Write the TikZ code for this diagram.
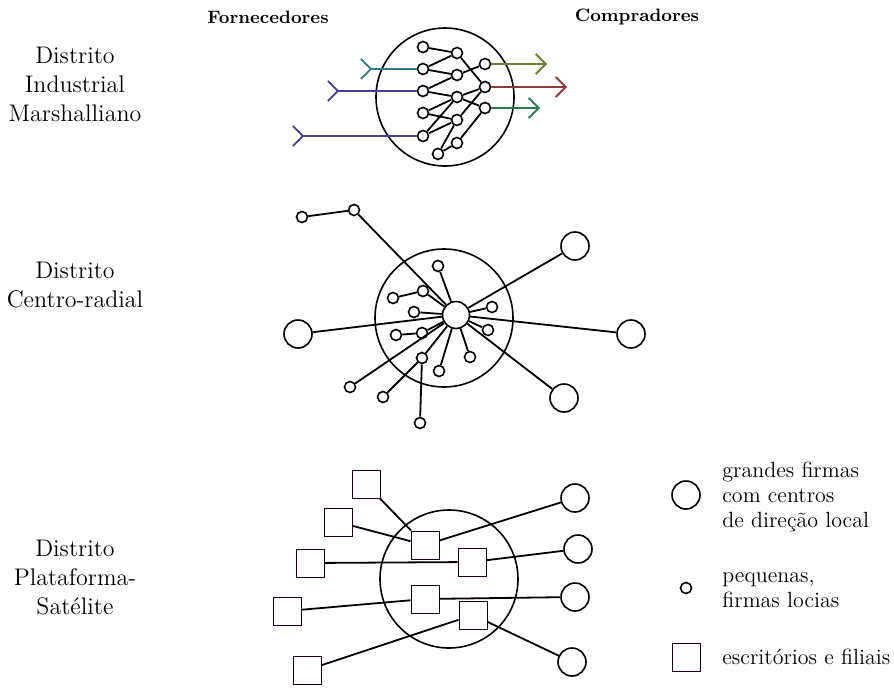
\documentclass[tikz,border=0pt]{standalone}
\usepackage{xcolor}
\usepackage{tikz}
\usetikzlibrary{arrows.meta}
\definecolor{petrol}{HTML}{2F7A80}
\definecolor{indigo}{HTML}{4A3C96}
\definecolor{moss}{HTML}{6E7A36}
\definecolor{rust}{HTML}{8E3A3A}
\definecolor{leaf}{HTML}{2E7A4E}

\begin{document}
\begin{tikzpicture}[x=0.5pt, y=-0.5pt,
  area/.style={draw, circle, line width=0.8pt, minimum size=69pt, inner sep=0pt},
  major/.style={draw, circle, line width=0.8pt, minimum size=14pt, inner sep=0pt, fill=white},
  minor/.style={draw, circle, line width=0.8pt, minimum size=5.5pt, inner sep=0pt, fill=white},
  office/.style={draw=black!80!violet, line width=0.5pt, minimum size=14pt, inner sep=0pt, fill=white},
  link/.style={line width=0.9pt},
  feed/.style={line width=0.9pt, {Straight Barb[reversed, length=5pt, width=10pt]}-},
  sale/.style={line width=0.9pt, -{Straight Barb[length=5pt, width=10pt]}},
  rowlab/.style={align=center, font=\fontsize{12}{14.5}\selectfont},
  head/.style={font=\fontsize{9}{11}\selectfont\bfseries},
  lgd/.style={align=left, anchor=west, inner sep=0pt, font=\fontsize{11}{12.5}\selectfont}]
  % pixel grid of the scan: x to the right, y downwards
  \useasboundingbox (0,0) rectangle (894,696);

  \node[head] (forn) at (268,17) {Fornecedores};
  \node[head] (comp) at (637,17) {Compradores};
  \node[rowlab] (r1) at (75,84)  {Distrito\\Industrial\\Marshalliano};
  \node[rowlab] (r2) at (75,285) {Distrito\\Centro-radial};
  \node[rowlab] (r3) at (75,578) {Distrito\\Plataforma-\\Satélite};

  % marshalliano
  \node[area]  (ind) at (445,97)  {};
  \node[minor] (a1)  at (423,47)  {};
  \node[minor] (a2)  at (423,69)  {};
  \node[minor] (a3)  at (423,91)  {};
  \node[minor] (a4)  at (423,113) {};
  \node[minor] (a5)  at (423,136) {};
  \node[minor] (b1)  at (457,53)  {};
  \node[minor] (b2)  at (457,75)  {};
  \node[minor] (b3)  at (457,97)  {};
  \node[minor] (b4)  at (457,120) {};
  \node[minor] (b5)  at (457,143) {};
  \node[minor] (c1)  at (485,64)  {};
  \node[minor] (c2)  at (485,87)  {};
  \node[minor] (c3)  at (485,108) {};
  \node[minor] (d1)  at (438,154) {};
  \coordinate (in1)  at (360,69);
  \coordinate (in2)  at (327,91);
  \coordinate (in3)  at (292,136);
  \coordinate (out1) at (547,64);
  \coordinate (out2) at (567,87);
  \coordinate (out3) at (540,108);
  \draw[link] (a1) -- (b1);
  \draw[link] (a2) -- (b1);
  \draw[link] (a2) -- (b2);
  \draw[link] (a3) -- (b2);
  \draw[link] (a3) -- (b3);
  \draw[link] (a4) -- (b3);
  \draw[link] (a4) -- (b4);
  \draw[link] (a5) -- (b3);
  \draw[link] (a5) -- (b4);
  \draw[link] (b1) -- (c2);
  \draw[link] (b2) -- (c1);
  \draw[link] (b3) -- (c2);
  \draw[link] (b3) -- (c3);
  \draw[link] (b4) -- (c2);
  \draw[link] (b5) -- (c3);
  \draw[link] (d1) -- (b5);
  \draw[link] (d1) -- (b4);
  \draw[feed, petrol] (in1) -- (a2);
  \draw[feed, indigo] (in2) -- (a3);
  \draw[feed, indigo] (in3) -- (a5);
  \draw[sale, moss] (c1) -- (out1);
  \draw[sale, rust] (c2) -- (out2);
  \draw[sale, leaf] (c3) -- (out3);

  % centro-radial
  \node[area]  (rad) at (444,318) {};
  \node[draw, circle, line width=0.8pt, minimum size=13.5pt, inner sep=0pt, fill=white] (hub) at (456,315) {};
  \node[major] (f1)  at (575,246) {};
  \node[major] (f2)  at (298,334) {};
  \node[major] (f3)  at (631,334) {};
  \node[major] (f4)  at (564,398) {};
  \node[minor] (p1)  at (302,217) {};
  \node[minor] (p2)  at (354,210) {};
  \node[minor] (p3)  at (438,266) {};
  \node[minor] (p4)  at (393,298) {};
  \node[minor] (p5)  at (423,291) {};
  \node[minor] (p6)  at (414,312) {};
  \node[minor] (p7)  at (492,307) {};
  \node[minor] (p8)  at (396,335) {};
  \node[minor] (p9)  at (422,333) {};
  \node[minor] (p10) at (488,330) {};
  \node[minor] (p11) at (422,358) {};
  \node[minor] (p12) at (439,371) {};
  \node[minor] (p13) at (470,357) {};
  \node[minor] (p14) at (350,387) {};
  \node[minor] (p15) at (383,397) {};
  \node[minor] (p16) at (420,423) {};
  \draw[link] (p1) -- (p2);
  \draw[link] (p2) -- (hub);
  \draw[link] (hub) -- (f1);
  \draw[link] (hub) -- (f2);
  \draw[link] (hub) -- (f3);
  \draw[link] (hub) -- (f4);
  \draw[link] (hub) -- (p3);
  \draw[link] (p4) -- (p5);
  \draw[link] (p5) -- (hub);
  \draw[link] (p6) -- (hub);
  \draw[link] (p8) -- (p9);
  \draw[link] (p9) -- (hub);
  \draw[link] (hub) -- (p7);
  \draw[link] (hub) -- (p10);
  \draw[link] (hub) -- (p14);
  \draw[link] (hub) -- (p11);
  \draw[link] (p11) -- (p15);
  \draw[link] (p11) -- (p16);
  \draw[link] (hub) -- (p12);
  \draw[link] (hub) -- (p13);

  % plataforma-satelite
  \node[area]   (sat) at (449,579) {};
  \node[office] (s1)  at (366,484) {};
  \node[office] (s2)  at (338,522) {};
  \node[office] (s3)  at (310,563) {};
  \node[office] (s4)  at (287,611) {};
  \node[office] (s5)  at (307,670) {};
  \node[office] (i1)  at (425,545) {};
  \node[office] (i2)  at (472,562) {};
  \node[office] (i3)  at (425,599) {};
  \node[office] (i4)  at (473,615) {};
  \node[major]  (g1)  at (575,498) {};
  \node[major]  (g2)  at (578,549) {};
  \node[major]  (g3)  at (575,597) {};
  \node[major]  (g4)  at (572,662) {};
  \draw[link] (s1) -- (i1);
  \draw[link] (s2) -- (i1);
  \draw[link] (s3) -- (i2);
  \draw[link] (s4) -- (i3);
  \draw[link] (s5) -- (i4);
  \draw[link] (i1) -- (g1);
  \draw[link] (i2) -- (g2);
  \draw[link] (i3) -- (g3);
  \draw[link] (i4) -- (g4);

  % legenda
  \node[major]  (kf) at (686,495) {};
  \node[minor]  (kp) at (686,588) {};
  \node[office] (ko) at (686,657) {};
  \node[lgd] (kft) at (722,497) {grandes firmas\\com centros\\de direção local};
  \node[lgd] (kpt) at (722,590) {pequenas,\\firmas locias};
  \node[lgd] (kot) at (722,657) {escritórios e filiais};
\end{tikzpicture}
\end{document}
